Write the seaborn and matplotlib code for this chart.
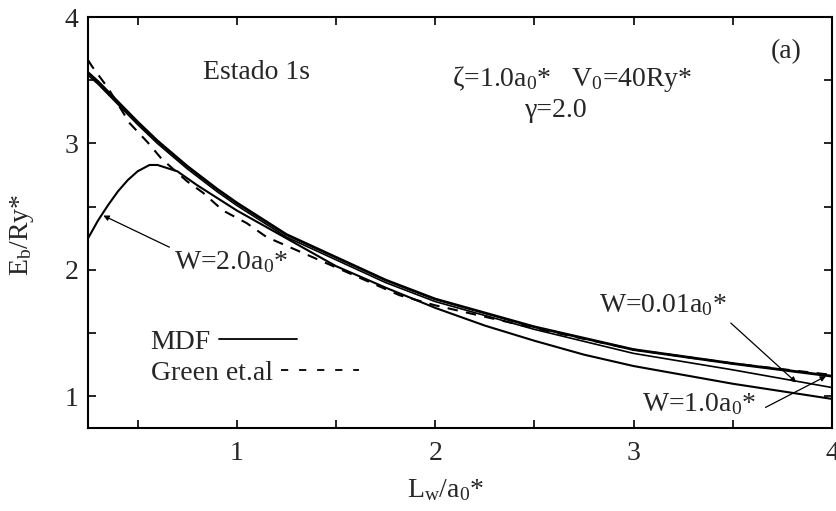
import matplotlib
matplotlib.use("Agg")
import matplotlib.pyplot as plt
from matplotlib.lines import Line2D
from matplotlib.ticker import MultipleLocator
import seaborn as sns

# W=1.0a0* (thick, top)
x_w1 = [0.25, 0.3, 0.4, 0.5, 0.6, 0.75, 0.9, 1.0, 1.25, 1.5, 1.75, 2.0, 2.5, 3.0, 3.5, 4.0]
e_w1 = [3.56, 3.49, 3.33, 3.17, 3.02, 2.82, 2.64, 2.53, 2.28, 2.10, 1.92, 1.77, 1.55, 1.37, 1.26, 1.16]

# W=0.01a0* (thin, close to the thick one)
x_w001 = [0.25, 0.3, 0.4, 0.5, 0.6, 0.75, 0.9, 1.0, 1.25, 1.5, 1.75, 2.0, 2.5, 3.0, 3.5, 4.0]
e_w001 = [3.54, 3.47, 3.31, 3.15, 3.00, 2.80, 2.62, 2.51, 2.26, 2.08, 1.90, 1.75, 1.53, 1.34, 1.21, 1.07]

# W=2.0a0*
x_w2 = [0.25, 0.3, 0.35, 0.4, 0.45, 0.5, 0.56, 0.6, 0.7, 0.8, 0.9, 1.0, 1.25, 1.5, 1.75, 2.0, 2.25, 2.5, 2.75, 3.0, 3.5, 4.0]
e_w2 = [2.25, 2.39, 2.51, 2.62, 2.71, 2.78, 2.83, 2.83, 2.78, 2.67, 2.57, 2.47, 2.25, 2.03, 1.86, 1.70, 1.56, 1.44, 1.33, 1.24, 1.10, 0.98]

# Green et al. (dashed)
x_green = [0.25, 0.27, 0.35, 0.46, 0.55, 0.62, 0.75, 0.83, 0.93, 1.05, 1.15, 1.5, 1.82, 2.0, 2.5, 3.0, 3.5, 4.0]
e_green = [3.66, 3.61, 3.44, 3.16, 3.01, 2.88, 2.70, 2.61, 2.47, 2.37, 2.26, 2.02, 1.80, 1.72, 1.54, 1.37, 1.26, 1.17]

FS = 20

sns.set_style("ticks")
plt.rcParams['font.family'] = ['Liberation Serif', 'DejaVu Serif']
plt.rcParams['mathtext.fontset'] = 'custom'
plt.rcParams['mathtext.rm'] = 'Liberation Serif'
plt.rcParams['mathtext.it'] = 'Liberation Serif:italic'

fig = plt.figure(figsize=(8.36, 5.11), dpi=100)
ax = fig.add_axes([0.1053, 0.1624, 0.8899, 0.8043])

sns.lineplot(x=x_w1, y=e_w1, ax=ax, color='black', linewidth=2.0)
sns.lineplot(x=x_w001, y=e_w001, ax=ax, color='black', linewidth=1.2)
sns.lineplot(x=x_w2, y=e_w2, ax=ax, color='black', linewidth=1.5)
sns.lineplot(x=x_green, y=e_green, ax=ax, color='black', linewidth=1.5, linestyle=(0, (5, 4)))

ax.set_xlim(0.25, 4)
ax.set_ylim(0.75, 4)
ax.xaxis.set_major_locator(MultipleLocator(1))
ax.xaxis.set_minor_locator(MultipleLocator(0.5))
ax.yaxis.set_major_locator(MultipleLocator(1))
ax.yaxis.set_minor_locator(MultipleLocator(0.5))
ax.tick_params(which='both', direction='in', top=True, right=True, width=1.2, length=5.5,
               labelsize=FS, color='black')
ax.tick_params(axis='x', which='major', pad=9)
ax.tick_params(axis='y', which='major', pad=7)
for s in ax.spines.values():
    s.set_linewidth(1.5)
    s.set_color('black')

ax.set_xlabel(r'L$_\mathrm{w}$/a$_\mathrm{0}$*', fontsize=FS)
ax.set_ylabel(r'E$_\mathrm{b}$/Ry*', fontsize=FS)
ax.xaxis.set_label_coords(0.48, -0.12)
ax.yaxis.set_label_coords(-0.07, 0.47)

ax.text(1.10, 3.56, 'Estado 1s', fontsize=FS, ha='center', va='center')
ax.text(3.77, 3.73, '(a)', fontsize=FS, ha='center', va='center')
ax.text(2.69, 3.51, r'ζ=1.0a$_\mathrm{0}$*   V$_\mathrm{0}$=40Ry*', fontsize=FS, ha='center', va='center')
ax.text(2.61, 3.26, 'γ=2.0', fontsize=FS, ha='center', va='center')

ax.text(0.97, 2.06, r'W=2.0a$_\mathrm{0}$*', fontsize=FS, ha='center', va='center')
ax.text(3.15, 1.72, r'W=0.01a$_\mathrm{0}$*', fontsize=FS, ha='center', va='center')
ax.text(3.33, 0.94, r'W=1.0a$_\mathrm{0}$*', fontsize=FS, ha='center', va='center')

arrow = dict(arrowstyle='-|>', color='black', lw=0.9, mutation_scale=8, shrinkA=0, shrinkB=0)
ax.annotate('', xy=(0.327, 2.43), xytext=(0.66, 2.18), arrowprops=arrow)
ax.annotate('', xy=(3.82, 1.11), xytext=(3.49, 1.58), arrowprops=arrow)
ax.annotate('', xy=(3.97, 1.16), xytext=(3.665, 0.913), arrowprops=arrow)

# two single-entry legends so each line sits right after its own label
leg_opts = dict(loc='upper left', frameon=False, markerfirst=False, fontsize=FS, handlelength=2.8,
                handletextpad=0.3, borderaxespad=0, borderpad=0)
leg1 = ax.legend([Line2D([], [], color='black', linewidth=1.3)], ['MDF'],
                 bbox_to_anchor=(0.084, 0.24), **leg_opts)
ax.add_artist(leg1)
ax.legend([Line2D([], [], color='black', linewidth=1.3, linestyle=(0, (4, 6)))], ['Green et.al'],
          bbox_to_anchor=(0.084, 0.165), **leg_opts)

fig.savefig('out.png', dpi=100)
